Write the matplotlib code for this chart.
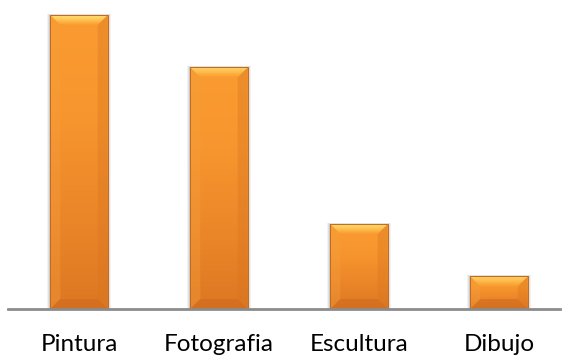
import numpy as np
import matplotlib
matplotlib.use("Agg")
import matplotlib.pyplot as plt
from matplotlib.patches import Polygon
from matplotlib.colors import LinearSegmentedColormap

categorias = ["Pintura", "Fotografia", "Escultura", "Dibujo"]
porcentajes = [45, 37, 13, 5]

W, H = 565, 356
fig = plt.figure(figsize=(W / 100, H / 100), dpi=100)
base_px = 47          # baseline distance from bottom
ax = fig.add_axes([0, base_px / H, 1, 1 - base_px / H])

paso = 140            # pixels between categories
x0_px = 79            # first bar centre
ax.set_xlim(-x0_px / paso, (W - x0_px) / paso)
ymax = 45 * (H - base_px) / 294
ax.set_ylim(0, ymax)

x = np.arange(len(categorias))
ancho = 0.41
barras = ax.bar(x, porcentajes, width=ancho, color="#F7952E", zorder=2)

# escala px -> datos para el biselado
px_x = 1 / paso
px_y = ymax / (H - base_px)
bis = 10

grad = np.linspace(0, 1, 256).reshape(-1, 1)
cuerpo = LinearSegmentedColormap.from_list(
    "cuerpo", ["#DD7823", "#EC8729", "#F7962E", "#FA9B31"])
brillo = LinearSegmentedColormap.from_list(
    "brillo", ["#F99A30", "#FDB443", "#FFCF5E", "#FFDB72"])


def franjas(xa, xb, y_ext, y_int, dx, cmap, n=10, alpha=1.0):
    # trapecio del bisel dividido en franjas con color degradado
    for i in range(n):
        t0, t1 = i / n, (i + 1) / n
        ya = y_int + (y_ext - y_int) * t0
        yb = y_int + (y_ext - y_int) * t1
        da, db = dx * (1 - t0), dx * (1 - t1)
        ax.add_patch(Polygon([(xa + da, ya), (xb - da, ya), (xb - db, yb), (xa + db, yb)],
                             closed=True, color=cmap((t0 + t1) / 2), lw=0,
                             zorder=4, alpha=alpha))


for b in barras:
    xa = b.get_x()
    xb = xa + b.get_width()
    top = b.get_height()
    dx = bis * px_x
    dy = min(bis * px_y, top / 2.5)

    # sombra suave alrededor
    for k, a in [(3, 0.10), (2, 0.15), (1, 0.22)]:
        ax.add_patch(plt.Rectangle((xa - k * px_x, 0), xb - xa + 2 * k * px_x,
                                   top + 0.5 * k * px_y, color="#808080",
                                   alpha=a, lw=0, zorder=1))

    im = ax.imshow(grad, extent=[xa, xb, 0, top], origin="lower",
                   cmap=cuerpo, aspect="auto", zorder=3)
    im.set_clip_path(b)

    # biselado: lados suaves, abajo algo oscuro, arriba hacia amarillo
    ax.add_patch(Polygon([(xa, 0), (xa + dx, dy), (xa + dx, top - dy), (xa, top)],
                         closed=True, color="#F5A040", lw=0, zorder=4, alpha=0.35))
    ax.add_patch(Polygon([(xb, 0), (xb - dx, dy), (xb - dx, top - dy), (xb, top)],
                         closed=True, color="#D8741F", lw=0, zorder=4, alpha=0.35))
    ax.add_patch(Polygon([(xa, 0), (xb, 0), (xb - dx, dy), (xa + dx, dy)],
                         closed=True, color="#C8661C", lw=0, zorder=4, alpha=0.45))
    franjas(xa, xb, top, top - dy, dx, brillo)

    ax.add_patch(plt.Rectangle((xa, 0), xb - xa, top, fill=False,
                               ec="#C06A22", lw=0.7, zorder=5))

for s in ["top", "right", "left"]:
    ax.spines[s].set_visible(False)
ax.spines["bottom"].set_color("#8C8C8C")
ax.spines["bottom"].set_linewidth(2)
ax.spines["bottom"].set_zorder(6)
ax.spines["bottom"].set_bounds(-(x0_px - 8) / paso, (560 - x0_px) / paso)

ax.set_yticks([])
ax.set_xticks(x)
ax.set_xticklabels(categorias, fontsize=17.5, family=["Lato", "DejaVu Sans"],
                   color="#000000")
ax.tick_params(axis="x", length=0, pad=18)

fig.savefig("out.png", dpi=100)
